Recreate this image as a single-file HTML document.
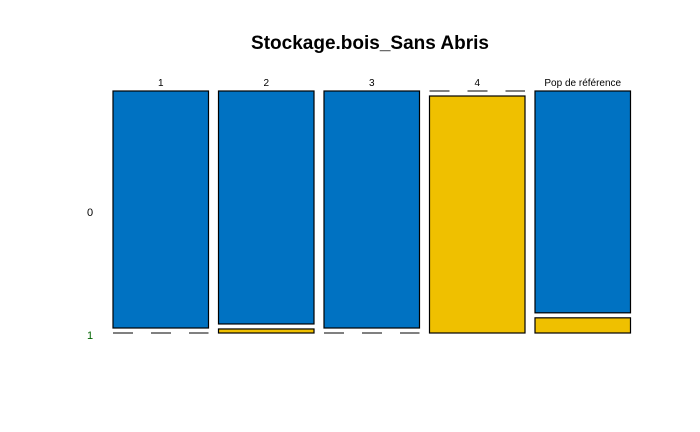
<!DOCTYPE html>
<html><head><meta charset="utf-8"><style>
html,body{margin:0;padding:0;background:#fff;}
svg{display:block;font-family:"Liberation Sans",sans-serif;}
</style></head><body>
<svg id="chart" width="700" height="432">
<text x="370" y="49" text-anchor="middle" font-size="19" font-weight="bold">Stockage.bois_Sans Abris</text>
<text x="90" y="216" text-anchor="middle" font-size="11">0</text>
<text x="90" y="339" text-anchor="middle" font-size="11" fill="#006400">1</text>
<g id="marks"></g>
</svg>
<script>
const categories = ["1","2","3","4","Pop de référence"];
const share1 = [0, 0.017, 0, 1, 0.064];
const plotX0 = 113, colW = 95.5, colStep = 105.5, yTop = 91, yBottom = 333, cellGap = 5;
const avail = yBottom - yTop - cellGap;
const marksG = document.getElementById('marks');
const SVGNS = "http://www.w3.org/2000/svg";
function mk(tag, attrs){const e=document.createElementNS(SVGNS,tag);for(const k in attrs)e.setAttribute(k,attrs[k]);marksG.appendChild(e);return e;}
function dashed(x, y){
  const l = mk('line',{x1:x,x2:x+colW,y1:y,y2:y,stroke:'#000','stroke-width':1,'stroke-dasharray':'20 18'});
  
  
}
categories.forEach((c,i)=>{
  const x = plotX0 + i*colStep;
  const t = mk('text',{x:x+colW/2,y:86,'text-anchor':'middle','font-size':10});
  t.textContent = c;
  
  
  const p = share1[i];
  const hb = (1-p)*avail, hy = p*avail;
  if (hb > 0.5) {
    const r = mk('rect',{x:x,y:yTop,width:colW,height:hb,fill:'#0072C2',stroke:'#000','stroke-width':1.2});
    
    
  } else dashed(x, yTop);
  if (hy > 0.5) {
    const r = mk('rect',{x:x,y:yBottom-hy,width:colW,height:hy,fill:'#EFC000',stroke:'#000','stroke-width':1.2});
    
    
  } else dashed(x, yBottom);
});
</script>
</body></html>
